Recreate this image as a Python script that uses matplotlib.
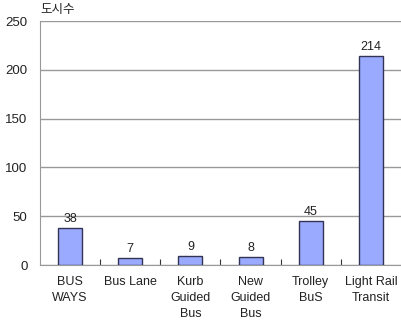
import matplotlib
matplotlib.use('Agg')
import matplotlib.pyplot as plt

categories = ['BUS\nWAYS', 'Bus Lane', 'Kurb\nGuided\nBus', 'New\nGuided\nBus', 'Trolley\nBuS', 'Light Rail\nTransit']
values = [38, 7, 9, 8, 45, 214]
yticks = [0, 50, 100, 150, 200, 250]

plt.rcParams['font.family'] = ['Liberation Sans', 'Noto Sans CJK KR']

fig = plt.figure(figsize=(4.02, 3.2), dpi=100)
ax = fig.add_axes([40 / 402, 55 / 320, 361 / 402, 244 / 320])

x = list(range(len(categories)))
ax.bar(x, values, width=0.4, color='#99aaff', edgecolor='#333355', linewidth=1, zorder=3)
for xi, v in zip(x, values):
    ax.text(xi, v + 3, str(v), ha='center', va='bottom', fontsize=9, color='#222222')

ax.set_xlim(-0.5, len(categories) - 0.5)
ax.set_ylim(0, 250)
ax.set_yticks(yticks)
ax.tick_params(axis='y', length=0, labelsize=9.5, pad=9, labelcolor='#222222')
ax.yaxis.grid(True, color='#999999', linewidth=1, zorder=0)

ax.set_xticks([i + 0.5 for i in x[:-1]])
ax.set_xticklabels([])
ax.tick_params(axis='x', direction='in', length=4, color='#333333')
for xi, lab in zip(x, categories):
    ax.text(xi, -11, lab, ha='center', va='top', fontsize=9, color='#222222',
            linespacing=1.45)

for s in ['top', 'right']:
    ax.spines[s].set_visible(False)
ax.spines['left'].set_color('#999999')
ax.spines['bottom'].set_color('#999999')

ax.text(0, 1.02, '도시수', transform=ax.transAxes, ha='left', va='bottom', fontsize=9,
        family=['Noto Sans CJK KR', 'DejaVu Sans'], color='#222222')

fig.savefig('out.png', dpi=100)
